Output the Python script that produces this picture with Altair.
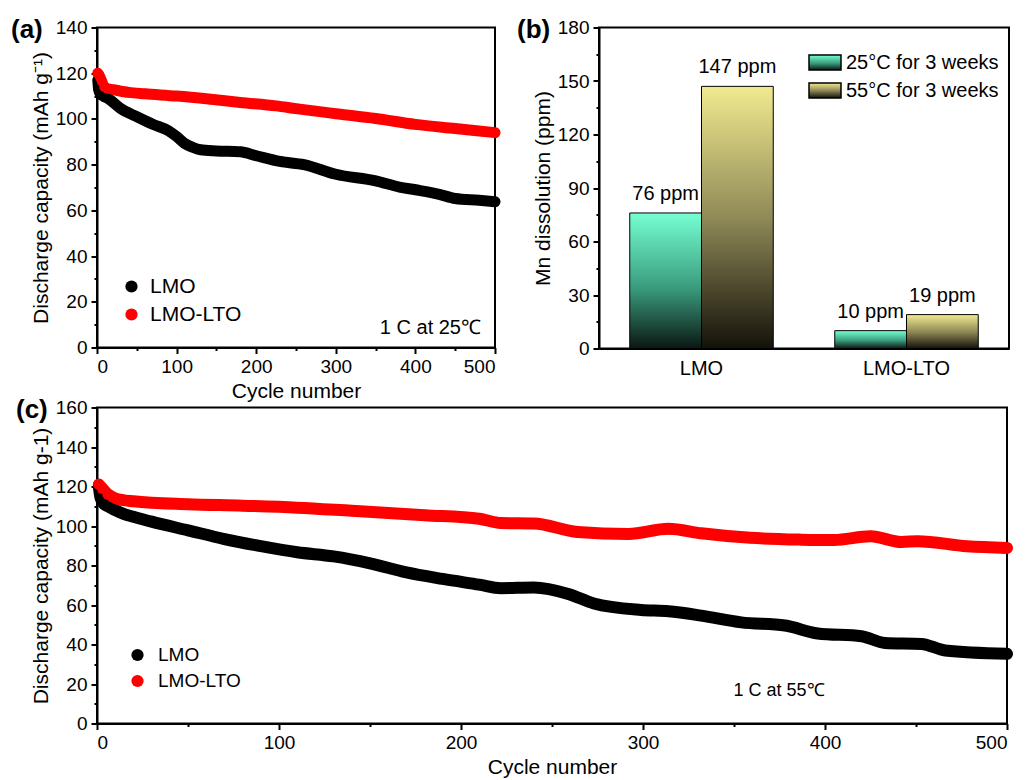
import altair as alt
import pandas as pd

FONT = "Liberation Sans"

# ---------------- data ----------------
series_names = ["LMO", "LMO-LTO"]
series_colors = ["#000000", "#ff0000"]

# (a) 1 C at 25 C
a_lmo_cycle = [1, 2, 4, 8, 15, 30, 50, 70, 90, 100, 110, 120, 130, 150, 180, 200, 230, 260, 300, 350, 380, 400, 430, 450, 480, 500]
a_lmo_cap = [117, 113, 111, 110, 108.7, 104.5, 101, 97.7, 94.8, 92.3, 89.3, 87.6, 86.5, 86, 85.6, 83.9, 81.4, 80, 75.8, 72.9, 70.2, 69, 67, 65.2, 64.4, 63.8]
a_lto_cycle = [1, 2, 4, 6, 9, 12, 20, 40, 60, 100, 140, 180, 225, 250, 300, 350, 400, 450, 500]
a_lto_cap = [120, 119.5, 118, 116.4, 114, 113.3, 112.8, 111.6, 111, 110, 108.7, 107.2, 105.7, 104.5, 102.3, 100.2, 97.6, 95.8, 94]

# (b) Mn dissolution
b_samples = ["LMO", "LMO", "LMO-LTO", "LMO-LTO"]
b_conditions = ["25\u00b0C for 3 weeks", "55\u00b0C for 3 weeks", "25\u00b0C for 3 weeks", "55\u00b0C for 3 weeks"]
b_values = [76, 147, 10, 19]
b_labels = ["76 ppm", "147 ppm", "10 ppm", "19 ppm"]
cond_names = ["25\u00b0C for 3 weeks", "55\u00b0C for 3 weeks"]

# (c) 1 C at 55 C
c_lmo_cycle = [1, 2, 4, 7, 10, 15, 20, 30, 50, 70, 90, 110, 130, 150, 170, 190, 210, 222, 240, 259, 273, 299, 314, 332, 354, 378, 396, 420, 433, 453, 466, 500]
c_lmo_cap = [120, 114, 111, 109.5, 108, 106, 104.7, 102.2, 97.8, 93.4, 89.8, 86.7, 84.6, 81.1, 76.5, 73.2, 70.3, 68.5, 68.9, 65.6, 60.8, 57.5, 56.8, 54.6, 51.2, 49.6, 45.6, 44.2, 40.8, 40.3, 37, 35.3]
c_lto_cycle = [1, 3, 6, 10, 20, 50, 80, 110, 140, 180, 210, 222, 240, 264, 292, 314, 332, 359, 387, 405, 425, 442, 451, 478, 500]
c_lto_cap = [121, 119, 116, 114, 112.5, 111, 110.3, 109.3, 107.7, 105.5, 103.7, 101.5, 101.3, 97, 96, 98.6, 96.3, 94, 93.1, 92.9, 94.8, 91.9, 92.3, 89.7, 88.9]

# axis tick values (major + minor)
a_y_ticks = list(range(0, 141, 10))
cyc_ticks = list(range(0, 501, 50))
b_y_ticks = list(range(0, 181, 15))
c_y_ticks = list(range(0, 161, 10))

# gradient stops (bottom -> top) for the two bar series
stops25 = [("#0b1712", 0), ("#3a9c7e", 0.45), ("#76ffd2", 1)]
stops55 = [("#14110a", 0), ("#8f8a57", 0.5), ("#f2ea90", 1)]


def series_df(c1, v1, c2, v2):
    return pd.DataFrame({
        "cycle": c1 + c2,
        "cap": v1 + v2,
        "series": [series_names[0]] * len(c1) + [series_names[1]] * len(c2),
    })


def minor_axis(title, values, major, **kw):
    return alt.Axis(
        title=title,
        values=values,
        labelExpr=f"datum.value % {major} == 0 ? datum.label : ''",
        tickSize={"condition": {"test": f"datum.value % {major} == 0", "value": 6}, "value": 3},
        **kw,
    )


def label_layer(txt, dx, dy, size=26, bold=True, align="left"):
    return alt.Chart(pd.DataFrame({"t": [txt]})).mark_text(
        align=align, baseline="middle", fontSize=size,
        fontWeight="bold" if bold else "normal", font=FONT, color="black",
    ).encode(text="t:N", x=alt.value(dx), y=alt.value(dy))


def cycle_panel(df, w, h, ymax, ymajor, yticks, ytitle, leg, stroke_w, note, note_xy, note_size, tag, tag_xy):
    xs = alt.X("cycle:Q", scale=alt.Scale(domain=[0, 500], nice=False),
               axis=minor_axis("Cycle number", cyc_ticks, 100))
    ys = alt.Y("cap:Q", scale=alt.Scale(domain=[0, ymax], nice=False),
               axis=minor_axis(ytitle, yticks, ymajor))
    col_scale = alt.Scale(domain=series_names, range=series_colors)
    legend = alt.Legend(
        title=None, orient="none", legendX=leg[0], legendY=leg[1], padding=0,
        symbolType="circle", symbolSize=leg[2], labelFontSize=leg[3], labelFont=FONT,
        labelOffset=leg[4], rowPadding=leg[5], symbolStrokeWidth=0, symbolOpacity=1)
    base = alt.Chart(df)
    line = base.mark_line(strokeWidth=stroke_w, strokeCap="round", strokeJoin="round",
                          interpolate="monotone").encode(
        x=xs, y=ys, color=alt.Color("series:N", scale=col_scale, legend=legend), detail="series:N")
    pts = base.mark_circle(size=(stroke_w - 1) ** 2, opacity=1).encode(
        x=xs, y=ys, color=alt.Color("series:N", scale=col_scale, legend=legend))
    note_l = label_layer(note, note_xy[0], note_xy[1], size=note_size, bold=False, align=note_xy[2])
    tag_l = label_layer(tag, tag_xy[0], tag_xy[1])
    return alt.layer(line, pts, note_l, tag_l).properties(width=w, height=h)


def lin_grad(stops):
    return alt.LinearGradient(gradient="linear", x1=0, x2=0, y1=1, y2=0, stops=[
        alt.GradientStop(color=c, offset=o) for c, o in stops])


def grad_expr(stops):
    s = ",".join(f"{{offset:{o},color:'{c}'}}" for c, o in stops)
    return alt.ExprRef(f"{{gradient:'linear',x1:0,y1:1,x2:0,y2:0,stops:[{s}]}}")


# ---------------- panel (a) ----------------
df_a = series_df(a_lmo_cycle, a_lmo_cap, a_lto_cycle, a_lto_cap)
panel_a = cycle_panel(df_a, 398, 320, 140, 20, a_y_ticks,
                      "Discharge capacity (mAh g\u207b\u00b9)",
                      (24, 248.5, 150, 21, 8, 6), 11,
                      "1 C at 25\u2103", (384, 300, "right"), 20,
                      "(a)", (-86, 2))

# ---------------- panel (b) ----------------
df_b = pd.DataFrame({"sample": b_samples, "cond": b_conditions, "value": b_values, "label": b_labels})

bx = alt.X("sample:N", scale=alt.Scale(domain=["LMO", "LMO-LTO"], paddingInner=0.3, paddingOuter=0.15),
           axis=alt.Axis(title=None, ticks=False, labelAngle=0, labelFontSize=20, labelPadding=10))
bxo = alt.XOffset("cond:N", scale=alt.Scale(domain=cond_names, paddingInner=0, paddingOuter=0))
by = alt.Y("value:Q", scale=alt.Scale(domain=[0, 180], nice=False),
           axis=minor_axis("Mn dissolution (ppm)", b_y_ticks, 30))

base_b = alt.Chart(df_b)
bars25 = base_b.transform_filter(alt.datum.cond == cond_names[0]).mark_bar(
    color=lin_grad(stops25), stroke="black", strokeWidth=1).encode(x=bx, xOffset=bxo, y=by)
bars55 = base_b.transform_filter(alt.datum.cond == cond_names[1]).mark_bar(
    color=lin_grad(stops55), stroke="black", strokeWidth=1).encode(x=bx, xOffset=bxo, y=by)
vals = base_b.mark_text(fontSize=20, font=FONT, color="black", dy=-19, baseline="middle").encode(
    x=bx, xOffset=bxo, y=by, text="label:N")
leg_b = base_b.transform_filter("false").mark_point(filled=True).encode(
    x=bx, y=by,
    fill=alt.Fill("cond:N", scale=alt.Scale(domain=cond_names, range=[grad_expr(stops25), grad_expr(stops55)]),
                  legend=alt.Legend(title=None, orient="none", legendX=209, legendY=18, padding=0,
                                    symbolType="M-1,-0.47H1V0.47H-1Z", symbolSize=1024,
                                    symbolStrokeColor="black", symbolStrokeWidth=1.5, symbolOpacity=1,
                                    labelFontSize=20, labelFont=FONT, labelOffset=4, rowPadding=-14)))
tag_b = label_layer("(b)", -82, 2)
panel_b = alt.layer(bars25, bars55, vals, leg_b, tag_b).properties(width=410, height=321)

# ---------------- panel (c) ----------------
df_c = series_df(c_lmo_cycle, c_lmo_cap, c_lto_cycle, c_lto_cap)
panel_c = cycle_panel(df_c, 910, 316, 160, 20, c_y_ticks,
                      "Discharge capacity (mAh g-1)",
                      (31, 238, 150, 19, 11, 6), 12,
                      "1 C at 55\u2103", (682, 283, "center"), 18,
                      "(c)", (-81, 2))

top = alt.hconcat(panel_a, panel_b, spacing=14).resolve_scale(
    color="independent", fill="independent").resolve_legend(color="independent", fill="independent")
chart = alt.vconcat(top, panel_c, spacing=-7).resolve_scale(
    color="independent", fill="independent").resolve_legend(
    color="independent", fill="independent").properties(
    padding={"left": 2, "top": 7.5, "right": 5, "bottom": 0}).configure_axis(
    labelFont=FONT, titleFont=FONT, labelColor="black", titleColor="black",
    labelFontSize=19, titleFontSize=21, titleFontWeight="normal",
    domainColor="black", domainWidth=2, tickColor="black", tickWidth=2,
    grid=False, labelPadding=4,
).configure_view(stroke="black", strokeWidth=2).configure_legend(labelColor="black")

chart.save("out.html", embed_options={"renderer": "svg", "actions": False})
